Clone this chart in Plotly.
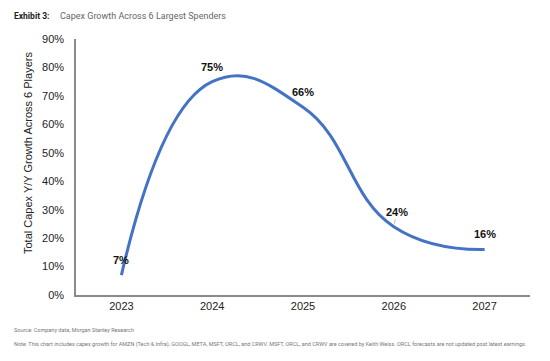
import plotly.graph_objects as go

years = ["2023", "2024", "2025", "2026", "2027"]
growth = [7, 75, 66, 24, 16]
labels = ["7&#37;", "75&#37;", "66&#37;", "24&#37;", "16&#37;"]
y_ticks = [0, 10, 20, 30, 40, 50, 60, 70, 80, 90]
y_ticktext = ["%d&#37;" % v for v in y_ticks]

W, H = 550, 361
L, R, T, B = 76, 20, 39, 66

fig = go.Figure()
fig.add_trace(go.Scatter(
    x=years, y=growth, mode="lines",
    line=dict(color="#4472C4", width=3, shape="spline", smoothing=1.3),
    hoverinfo="skip", showlegend=False,
))

for i, (v, t) in enumerate(zip(growth, labels)):
    if i == 3:
        fig.add_annotation(xref="x", yref="y", x=i, y=v, text="<b>" + t + "</b>",
                           showarrow=True, arrowhead=0, arrowwidth=0.8,
                           arrowcolor="#aaaaaa", ax=3, ay=-15, standoff=3,
                           font=dict(family="Liberation Sans, Arial", size=11, color="#111111"))
    else:
        fig.add_annotation(xref="x", yref="y", x=i, y=v, text="<b>" + t + "</b>",
                           showarrow=False, yshift=15,
                           font=dict(family="Liberation Sans, Arial", size=11, color="#111111"))

fig.update_layout(
    width=W, height=H,
    margin=dict(l=L, r=R, t=T, b=B),
    paper_bgcolor="white", plot_bgcolor="white",
    xaxis=dict(type="category", range=[-0.5, 4.5], showgrid=False, zeroline=False,
               showline=True, linecolor="#8a8a8a", linewidth=1.5, ticks="",
               tickfont=dict(family="Liberation Sans, Arial", size=11, color="#222222")),
    yaxis=dict(range=[0, 90], tickvals=y_ticks, ticktext=y_ticktext, showgrid=False,
               zeroline=False, showline=True, linecolor="#8a8a8a", linewidth=1.5,
               ticks="", ticklabelstandoff=8,
               tickfont=dict(family="Liberation Sans, Arial", size=11, color="#222222")),
)

fig.add_annotation(xref="paper", yref="paper", x=(28 - L) / (W - L - R),
                   y=(H - B - 153) / (H - T - B), xanchor="center", yanchor="middle",
                   text="Total Capex Y/Y Growth Across 6 Players", textangle=-90,
                   showarrow=False,
                   font=dict(family="Liberation Sans, Arial", size=11, color="#222222"))

def paper_text(x, y, text, size, color, anchor="left", family="Roboto"):
    fig.add_annotation(xref="paper", yref="paper",
                       x=(x - L) / (W - L - R), y=(H - B - y) / (H - T - B),
                       xanchor=anchor, yanchor="middle", text=text, showarrow=False,
                       font=dict(family=family, size=size, color=color))

paper_text(12, 16, "<b>Exhibit 3:</b>", 8.5, "#222222")
paper_text(58, 16, "Capex Growth Across 6 Largest Spenders", 9, "#666666")
paper_text(12, 330, "Source: Company data, Morgan Stanley Research", 5.5, "#777777")
paper_text(12, 344, "Note: This chart includes capex growth for AMZN (Tech &amp; Infra), GOOGL, META, MSFT, ORCL, and CRWV. MSFT, ORCL, and CRWV are covered by Keith Weiss. ORCL forecasts are not updated post latest earnings.", 5.5, "#777777")

fig.write_html("out.html", config={"displayModeBar": False},
               post_script="document.body.style.margin='0';")
